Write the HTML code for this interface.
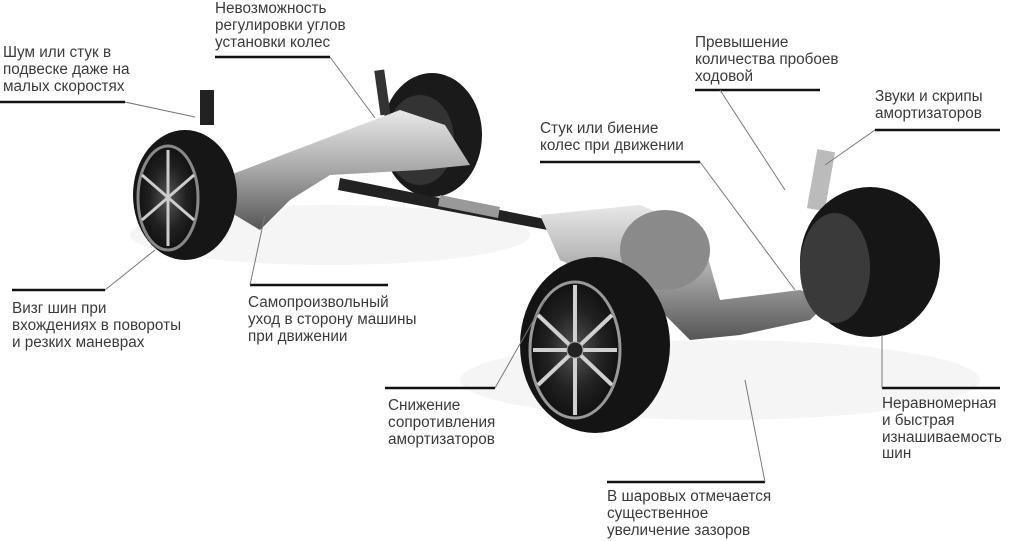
<!DOCTYPE html>
<html><head><meta charset="utf-8"><style>
html,body{margin:0;padding:0;background:#fff;}
body{width:1012px;height:541px;position:relative;overflow:hidden;font-family:"Liberation Sans","DejaVu Sans",sans-serif;}
.t{position:absolute;font-size:15.3px;line-height:16.8px;color:#3a3a3a;white-space:nowrap;}
svg{position:absolute;left:0;top:0;}
</style></head><body>
<svg width="1012" height="541" viewBox="0 0 1012 541">
<defs>
<radialGradient id="rim" cx="50%" cy="50%" r="50%"><stop offset="0" stop-color="#555"/><stop offset="0.6" stop-color="#222"/><stop offset="1" stop-color="#111"/></radialGradient>
<linearGradient id="met" x1="0" y1="0" x2="0" y2="1"><stop offset="0" stop-color="#e8e8e8"/><stop offset="0.5" stop-color="#a8a8a8"/><stop offset="1" stop-color="#555"/></linearGradient>
</defs>
<ellipse cx="330" cy="235" rx="200" ry="30" fill="#f5f5f5"/>
<ellipse cx="720" cy="380" rx="260" ry="40" fill="#f5f5f5"/>
<ellipse cx="432" cy="135" rx="50" ry="62" fill="#1a1a1a"/>
<ellipse cx="420" cy="140" rx="34" ry="45" fill="#333"/>
<path d="M230,175 L400,110 L445,125 L470,165 L420,170 L330,175 L290,200 L260,230 L235,215 Z" fill="url(#met)"/>
<rect x="200" y="90" width="14" height="35" fill="#222"/>
<rect x="377" y="70" width="10" height="45" fill="#333" transform="rotate(-8 382 90)"/>
<path d="M340,178 L560,222 L558,232 L338,190 Z" fill="#222"/>
<path d="M440,195 L500,207 L498,218 L438,206 Z" fill="#999"/>
<path d="M540,215 L640,205 L700,230 L720,300 L800,290 L830,300 L810,320 L740,335 L690,340 L650,300 L560,260 Z" fill="url(#met)"/>
<ellipse cx="665" cy="250" rx="45" ry="40" fill="#8a8a8a"/>
<rect x="812" y="150" width="18" height="60" fill="#bbb" transform="rotate(10 820 180)"/>
<ellipse cx="185" cy="195" rx="52" ry="65" fill="#161616"/>
<ellipse cx="168" cy="198" rx="30" ry="52" fill="url(#rim)" stroke="#888" stroke-width="3"/>
<g stroke="#ccc" stroke-width="3"><line x1="168" y1="150" x2="168" y2="246"/><line x1="142" y1="175" x2="194" y2="220"/><line x1="142" y1="220" x2="194" y2="175"/></g>
<ellipse cx="870" cy="262" rx="70" ry="75" fill="#161616"/>
<ellipse cx="835" cy="268" rx="35" ry="55" fill="#3a3a3a"/>
<ellipse cx="595" cy="345" rx="75" ry="88" fill="#141414"/>
<ellipse cx="575" cy="350" rx="45" ry="68" fill="url(#rim)" stroke="#999" stroke-width="3"/>
<g stroke="#d0d0d0" stroke-width="4"><line x1="575" y1="285" x2="575" y2="415"/><line x1="538" y1="315" x2="612" y2="385"/><line x1="538" y1="385" x2="612" y2="315"/><line x1="533" y1="350" x2="617" y2="350"/></g>
<circle cx="575" cy="350" r="8" fill="#222" stroke="#aaa"/>
<g stroke="#111" stroke-width="2.5">
<line x1="215" y1="57" x2="330" y2="57"/>
<line x1="0" y1="102" x2="125" y2="102"/>
<line x1="12" y1="290" x2="105" y2="290"/>
<line x1="250" y1="285" x2="388" y2="285"/>
<line x1="695" y1="90" x2="820" y2="90"/>
<line x1="875" y1="130" x2="1000" y2="130"/>
<line x1="540" y1="162" x2="700" y2="162"/>
<line x1="385" y1="388" x2="495" y2="388"/>
<line x1="882" y1="388" x2="1000" y2="388"/>
<line x1="607" y1="482" x2="765" y2="482"/>
</g>
<g stroke="#777" stroke-width="1">
<line x1="330" y1="57" x2="375" y2="118"/>
<line x1="125" y1="102" x2="195" y2="117"/>
<line x1="105" y1="290" x2="155" y2="250"/>
<line x1="250" y1="285" x2="265" y2="215"/>
<line x1="720" y1="90" x2="785" y2="190"/>
<line x1="875" y1="130" x2="825" y2="165"/>
<line x1="700" y1="162" x2="795" y2="290"/>
<line x1="495" y1="388" x2="545" y2="300"/>
<line x1="882" y1="388" x2="882" y2="335"/>
<line x1="765" y1="482" x2="745" y2="380"/>
</g>
</svg>
<div class="t" style="left:215px;top:1px">Невозможность<br>регулировки углов<br>установки колес</div>
<div class="t" style="left:3px;top:45px">Шум или стук в<br>подвеске даже на<br>малых скоростях</div>
<div class="t" style="left:695px;top:35px">Превышение<br>количества пробоев<br>ходовой</div>
<div class="t" style="left:875px;top:89px">Звуки и скрипы<br>амортизаторов</div>
<div class="t" style="left:540px;top:121px">Стук или биение<br>колес при движении</div>
<div class="t" style="left:12px;top:301px">Визг шин при<br>вхождениях в повороты<br>и резких маневрах</div>
<div class="t" style="left:248px;top:295px">Самопроизвольный<br>уход в сторону машины<br>при движении</div>
<div class="t" style="left:388px;top:398px">Снижение<br>сопротивления<br>амортизаторов</div>
<div class="t" style="left:882px;top:396px">Неравномерная<br>и быстрая<br>изнашиваемость<br>шин</div>
<div class="t" style="left:607px;top:489px">В шаровых отмечается<br>существенное<br>увеличение зазоров</div>
</body></html>
